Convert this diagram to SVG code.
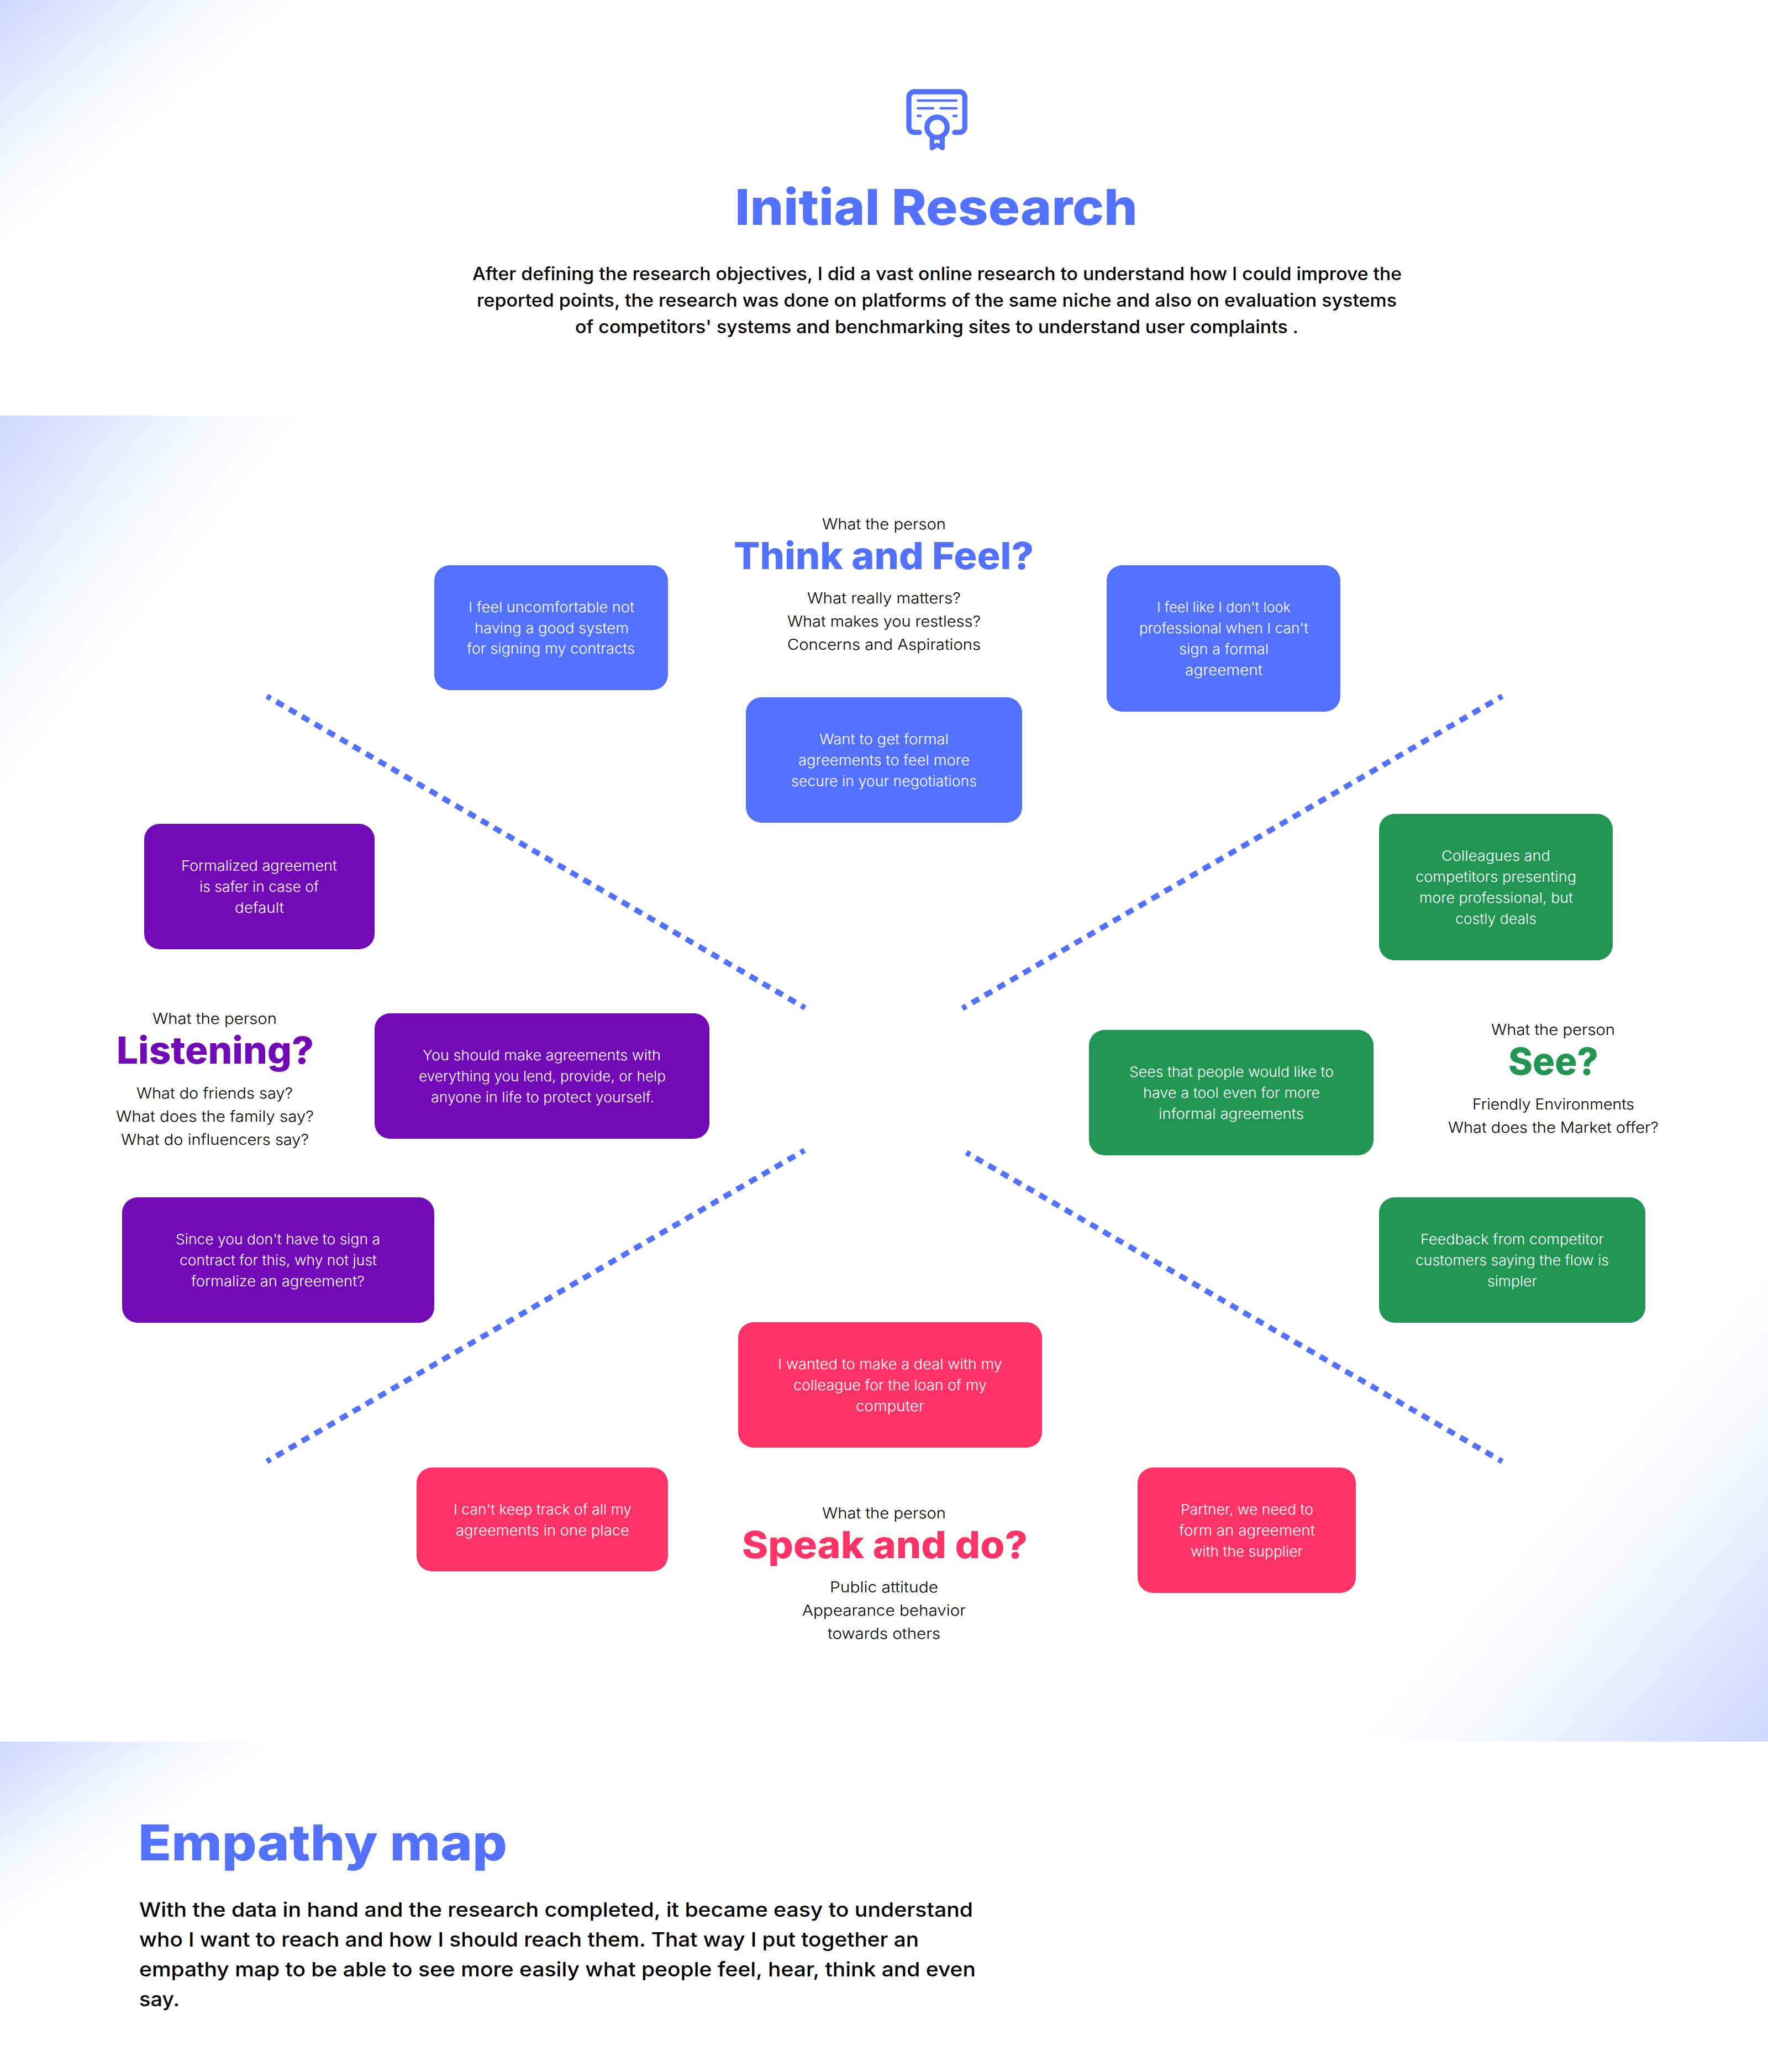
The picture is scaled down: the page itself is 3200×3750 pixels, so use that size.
<svg xmlns="http://www.w3.org/2000/svg" width="3200" height="3750" viewBox="0 0 3200 3750">
<style>
text{font-family:"Inter","Liberation Sans",sans-serif}
.box{rx:28px;ry:28px}
.blue{fill:#5271FF}.purple{fill:#7209B7}.green{fill:#219653}.pink{fill:#FF3366}
.t{font-size:26px;font-weight:300;fill:#fff}
.s{font-size:27.5px;font-weight:300;fill:#000}
.h{font-size:68px;font-weight:800}
.h1{font-size:90px;font-weight:800;fill:#5271FF}
.p1{font-size:32px;font-weight:500;fill:#000}
.p2{font-size:36px;font-weight:500;fill:#000}
.dash{stroke:#5271FF;stroke-width:10;stroke-dasharray:15 12;stroke-dashoffset:7;fill:none}
.ic{fill:none;stroke:#5271FF;stroke-linecap:round}
</style>
<defs>
<linearGradient id="g1" gradientUnits="userSpaceOnUse" x1="0" y1="0" x2="226" y2="271"><stop offset="0" stop-color="#5271FF" stop-opacity=".28"/><stop offset=".35" stop-color="#5271FF" stop-opacity=".17"/><stop offset=".7" stop-color="#5271FF" stop-opacity=".05"/><stop offset="1" stop-color="#5271FF" stop-opacity="0"/></linearGradient>
<linearGradient id="g2" gradientUnits="userSpaceOnUse" x1="0" y1="752" x2="341" y2="1026"><stop offset="0" stop-color="#5271FF" stop-opacity=".28"/><stop offset=".35" stop-color="#5271FF" stop-opacity=".17"/><stop offset=".7" stop-color="#5271FF" stop-opacity=".05"/><stop offset="1" stop-color="#5271FF" stop-opacity="0"/></linearGradient>
<linearGradient id="g3" gradientUnits="userSpaceOnUse" x1="3200" y1="3152" x2="2770" y2="2775"><stop offset="0" stop-color="#5271FF" stop-opacity=".28"/><stop offset=".35" stop-color="#5271FF" stop-opacity=".17"/><stop offset=".7" stop-color="#5271FF" stop-opacity=".05"/><stop offset="1" stop-color="#5271FF" stop-opacity="0"/></linearGradient>
<linearGradient id="g4" gradientUnits="userSpaceOnUse" x1="0" y1="3152" x2="162" y2="3393"><stop offset="0" stop-color="#5271FF" stop-opacity=".28"/><stop offset=".35" stop-color="#5271FF" stop-opacity=".17"/><stop offset=".7" stop-color="#5271FF" stop-opacity=".05"/><stop offset="1" stop-color="#5271FF" stop-opacity="0"/></linearGradient>
</defs>
<rect width="3200" height="3750" fill="#fff"/>
<g id="backgrounds">
<rect x="0" y="0" width="3200" height="752" fill="url(#g1)"/>
<rect x="0" y="752" width="3200" height="2400" fill="url(#g2)"/>
<rect x="0" y="752" width="3200" height="2400" fill="url(#g3)"/>
<rect x="0" y="3152" width="3200" height="598" fill="url(#g4)"/>
</g>
<g id="icon">
<path class="ic" stroke-width="9.3" d="M1664 239.7H1655a10 10 0 0 1-10-10V176a10 10 0 0 1 10-10H1736.300a10 10 0 0 1 10 10V229.700a10 10 0 0 1-10 10H1728"/>
<path class="ic" stroke-width="4.600" d="M1661.500 182H1731M1661.500 196H1689M1702.700 196H1731M1661.500 209.700H1666M1726 209.700H1731"/>
<path fill="#5271FF" fill-rule="evenodd" d="M1682.700 245H1710V268a4 4 0 0 1-6 3.500L1696.400 266.500L1689 271.500a4 4 0 0 1-6.300-3.500ZM1691 253.300V260.500L1696 258L1700.700 260.500V253.300Z"/>
<circle cx="1696" cy="230.300" r="18.300" fill="#fff" stroke="#5271FF" stroke-width="9.300"/>
</g>
<g id="header">
<text class="h1" x="1330" y="407" textLength="729" lengthAdjust="spacingAndGlyphs">Initial Research</text>
<text class="p1" x="855" y="507" textLength="1682" lengthAdjust="spacingAndGlyphs">After defining the research objectives, I did a vast online research to understand how I could improve the</text>
<text class="p1" x="863" y="555" textLength="1665" lengthAdjust="spacingAndGlyphs">reported points, the research was done on platforms of the same niche and also on evaluation systems</text>
<text class="p1" x="1041" y="603" textLength="1309" lengthAdjust="spacingAndGlyphs">of competitors' systems and benchmarking sites to understand user complaints .</text>
</g>
<g id="connectors">
<line class="dash" pathLength="1135" x1="483" y1="1260" x2="1457" y2="1824"/>
<line class="dash" pathLength="1135" x1="2719" y1="1260" x2="1742" y2="1825"/>
<line class="dash" pathLength="1135" x1="483" y1="2645" x2="1456" y2="2082"/>
<line class="dash" pathLength="1135" x1="2719" y1="2645" x2="1749" y2="2086"/>
</g>
<g id="label-think">
<text class="s" x="1488" y="958" textLength="224" lengthAdjust="spacingAndGlyphs">What the person</text>
<text class="h blue" x="1328" y="1030" textLength="543" lengthAdjust="spacingAndGlyphs">Think and Feel?</text>
<text class="s" x="1461" y="1092" textLength="278" lengthAdjust="spacingAndGlyphs">What really matters?</text>
<text class="s" x="1425" y="1134" textLength="350" lengthAdjust="spacingAndGlyphs">What makes you restless?</text>
<text class="s" x="1425" y="1176" textLength="350" lengthAdjust="spacingAndGlyphs">Concerns and Aspirations</text>
</g>
<g id="node-uncomfortable">
<rect class="box blue" x="786" y="1023" width="423" height="226"/>
<text class="t" x="848" y="1108" textLength="300" lengthAdjust="spacingAndGlyphs">I feel uncomfortable not</text>
<text class="t" x="859" y="1146" textLength="279" lengthAdjust="spacingAndGlyphs">having a good system</text>
<text class="t" x="845" y="1183" textLength="304" lengthAdjust="spacingAndGlyphs">for signing my contracts</text>
</g>
<g id="node-formal">
<rect class="box blue" x="1350" y="1262" width="500" height="227"/>
<text class="t" x="1483" y="1347" textLength="234" lengthAdjust="spacingAndGlyphs">Want to get formal</text>
<text class="t" x="1445" y="1385" textLength="310" lengthAdjust="spacingAndGlyphs">agreements to feel more</text>
<text class="t" x="1432" y="1423" textLength="336" lengthAdjust="spacingAndGlyphs">secure in your negotiations</text>
</g>
<g id="node-professional">
<rect class="box blue" x="2003" y="1023" width="423" height="265"/>
<text class="t" x="2094" y="1108" textLength="242" lengthAdjust="spacingAndGlyphs">I feel like I don't look</text>
<text class="t" x="2062" y="1146" textLength="306" lengthAdjust="spacingAndGlyphs">professional when I can't</text>
<text class="t" x="2134" y="1184" textLength="162" lengthAdjust="spacingAndGlyphs">sign a formal</text>
<text class="t" x="2145" y="1222" textLength="140" lengthAdjust="spacingAndGlyphs">agreement</text>
</g>
<g id="node-colleagues">
<rect class="box green" x="2496" y="1473" width="423" height="265"/>
<text class="t" x="2609" y="1558" textLength="197" lengthAdjust="spacingAndGlyphs">Colleagues and</text>
<text class="t" x="2562" y="1596" textLength="291" lengthAdjust="spacingAndGlyphs">competitors presenting</text>
<text class="t" x="2569" y="1634" textLength="278" lengthAdjust="spacingAndGlyphs">more professional, but</text>
<text class="t" x="2634" y="1672" textLength="147" lengthAdjust="spacingAndGlyphs">costly deals</text>
</g>
<g id="node-sees">
<rect class="box green" x="1971" y="1864" width="515" height="227"/>
<text class="t" x="2044" y="1949" textLength="370" lengthAdjust="spacingAndGlyphs">Sees that people would like to</text>
<text class="t" x="2069" y="1987" textLength="320" lengthAdjust="spacingAndGlyphs">have a tool even for more</text>
<text class="t" x="2097" y="2025" textLength="263" lengthAdjust="spacingAndGlyphs">informal agreements</text>
</g>
<g id="label-see">
<text class="s" x="2699" y="1873" textLength="224" lengthAdjust="spacingAndGlyphs">What the person</text>
<text class="h green" x="2730" y="1945" textLength="163" lengthAdjust="spacingAndGlyphs">See?</text>
<text class="s" x="2665" y="2008" textLength="293" lengthAdjust="spacingAndGlyphs">Friendly Environments</text>
<text class="s" x="2621" y="2050" textLength="381" lengthAdjust="spacingAndGlyphs">What does the Market offer?</text>
</g>
<g id="node-feedback">
<rect class="box green" x="2496" y="2167" width="482" height="227"/>
<text class="t" x="2571" y="2252" textLength="332" lengthAdjust="spacingAndGlyphs">Feedback from competitor</text>
<text class="t" x="2562" y="2290" textLength="350" lengthAdjust="spacingAndGlyphs">customers saying the flow is</text>
<text class="t" x="2692" y="2328" textLength="90" lengthAdjust="spacingAndGlyphs">simpler</text>
</g>
<g id="node-deal">
<rect class="box pink" x="1336" y="2393" width="550" height="227"/>
<text class="t" x="1408" y="2478" textLength="406" lengthAdjust="spacingAndGlyphs">I wanted to make a deal with my</text>
<text class="t" x="1436" y="2516" textLength="350" lengthAdjust="spacingAndGlyphs">colleague for the loan of my</text>
<text class="t" x="1549" y="2554" textLength="124" lengthAdjust="spacingAndGlyphs">computer</text>
</g>
<g id="node-track">
<rect class="box pink" x="754" y="2656" width="455" height="188"/>
<text class="t" x="821" y="2741" textLength="322" lengthAdjust="spacingAndGlyphs">I can't keep track of all my</text>
<text class="t" x="825" y="2779" textLength="314" lengthAdjust="spacingAndGlyphs">agreements in one place</text>
</g>
<g id="node-partner">
<rect class="box pink" x="2059" y="2656" width="395" height="227"/>
<text class="t" x="2137" y="2741" textLength="240" lengthAdjust="spacingAndGlyphs">Partner, we need to</text>
<text class="t" x="2134" y="2779" textLength="246" lengthAdjust="spacingAndGlyphs">form an agreement</text>
<text class="t" x="2155" y="2817" textLength="203" lengthAdjust="spacingAndGlyphs">with the supplier</text>
</g>
<g id="label-speak">
<text class="s" x="1488" y="2748" textLength="224" lengthAdjust="spacingAndGlyphs">What the person</text>
<text class="h pink" x="1343" y="2820" textLength="517" lengthAdjust="spacingAndGlyphs">Speak and do?</text>
<text class="s" x="1502" y="2882" textLength="196" lengthAdjust="spacingAndGlyphs">Public attitude</text>
<text class="s" x="1452" y="2924" textLength="296" lengthAdjust="spacingAndGlyphs">Appearance behavior</text>
<text class="s" x="1498" y="2966" textLength="204" lengthAdjust="spacingAndGlyphs">towards others</text>
</g>
<g id="node-contract">
<rect class="box purple" x="221" y="2167" width="565" height="227"/>
<text class="t" x="318" y="2252" textLength="370" lengthAdjust="spacingAndGlyphs">Since you don't have to sign a</text>
<text class="t" x="325" y="2290" textLength="357" lengthAdjust="spacingAndGlyphs">contract for this, why not just</text>
<text class="t" x="346" y="2328" textLength="314" lengthAdjust="spacingAndGlyphs">formalize an agreement?</text>
</g>
<g id="node-should">
<rect class="box purple" x="678" y="1834" width="606" height="227"/>
<text class="t" x="765" y="1919" textLength="431" lengthAdjust="spacingAndGlyphs">You should make agreements with</text>
<text class="t" x="758" y="1957" textLength="447" lengthAdjust="spacingAndGlyphs">everything you lend, provide, or help</text>
<text class="t" x="780" y="1995" textLength="404" lengthAdjust="spacingAndGlyphs">anyone in life to protect yourself.</text>
</g>
<g id="label-listening">
<text class="s" x="276" y="1853" textLength="225" lengthAdjust="spacingAndGlyphs">What the person</text>
<text class="h purple" x="211" y="1925" textLength="357" lengthAdjust="spacingAndGlyphs">Listening?</text>
<text class="s" x="247" y="1988" textLength="283" lengthAdjust="spacingAndGlyphs">What do friends say?</text>
<text class="s" x="210" y="2030" textLength="358" lengthAdjust="spacingAndGlyphs">What does the family say?</text>
<text class="s" x="219" y="2072" textLength="340" lengthAdjust="spacingAndGlyphs">What do influencers say?</text>
</g>
<g id="node-formalized">
<rect class="box purple" x="261" y="1491" width="417" height="227"/>
<text class="t" x="328" y="1576" textLength="282" lengthAdjust="spacingAndGlyphs">Formalized agreement</text>
<text class="t" x="361" y="1614" textLength="216" lengthAdjust="spacingAndGlyphs">is safer in case of</text>
<text class="t" x="425" y="1652" textLength="89" lengthAdjust="spacingAndGlyphs">default</text>
</g>
<g id="empathy">
<text class="h1" x="250" y="3367" textLength="668" lengthAdjust="spacingAndGlyphs">Empathy map</text>
<text class="p2" x="252" y="3469" textLength="1509" lengthAdjust="spacingAndGlyphs">With the data in hand and the research completed, it became easy to understand</text>
<text class="p2" x="252" y="3523" textLength="1411" lengthAdjust="spacingAndGlyphs">who I want to reach and how I should reach them. That way I put together an</text>
<text class="p2" x="252" y="3577" textLength="1514" lengthAdjust="spacingAndGlyphs">empathy map to be able to see more easily what people feel, hear, think and even</text>
<text class="p2" x="252" y="3631" textLength="73" lengthAdjust="spacingAndGlyphs">say.</text>
</g>
</svg>
